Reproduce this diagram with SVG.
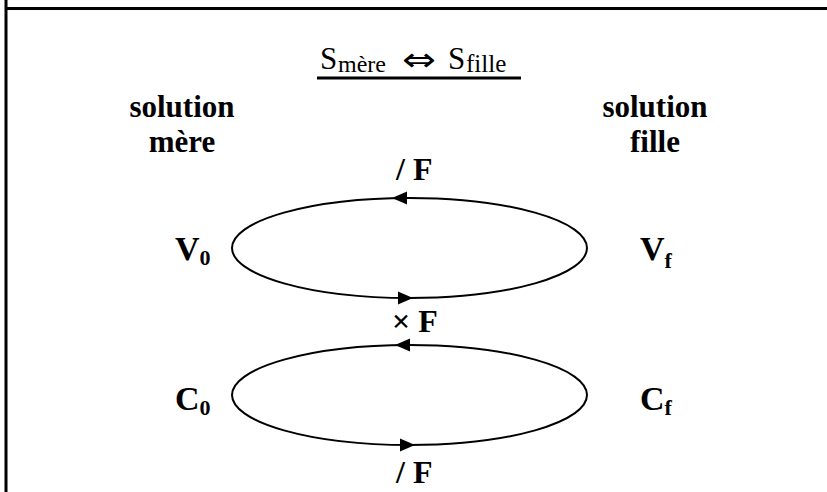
<svg xmlns="http://www.w3.org/2000/svg" width="827" height="492" viewBox="0 0 827 492">
<defs>
<style>
.lbl{font-family:"Liberation Serif","Times New Roman",serif;font-weight:bold;fill:#000}
.ttl{font-family:"Liberation Serif","DejaVu Serif",serif;fill:#000}
.sym{font-family:"DejaVu Sans",sans-serif;fill:#000}
.frame{stroke:#000;stroke-width:3;fill:none}
.ell{stroke:#000;stroke-width:2;fill:none}
</style>
<path id="ahL" d="M0,0 L15,-6.5 L15,6.5 Z" fill="#000"/>
<path id="ahR" d="M0,0 L-15,-6.5 L-15,6.5 Z" fill="#000"/>
</defs>
<rect width="827" height="492" fill="#fff"/>
<g id="frame">
<line class="frame" x1="6" y1="0" x2="6" y2="492"/>
<line class="frame" x1="6" y1="8.5" x2="827" y2="8.5"/>
</g>
<g id="title">
<text class="ttl" x="320" y="69" font-size="31">S</text>
<text class="ttl" x="338" y="72" font-size="24">mère</text>
<text class="sym" x="402" y="71" font-size="33" textLength="34" lengthAdjust="spacingAndGlyphs">⇔</text>
<text class="ttl" x="448" y="69" font-size="31">S</text>
<text class="ttl" x="466" y="72" font-size="25">fille</text>
<line x1="317" y1="78" x2="521" y2="78" stroke="#000" stroke-width="3"/>
</g>
<g id="sol-mere">
<text class="lbl" x="182" y="117" font-size="31" text-anchor="middle">solution</text>
<text class="lbl" x="182" y="152" font-size="31" text-anchor="middle">mère</text>
</g>
<g id="sol-fille">
<text class="lbl" x="655" y="117" font-size="31" text-anchor="middle">solution</text>
<text class="lbl" x="655" y="152" font-size="31" text-anchor="middle">fille</text>
</g>
<g id="V0"><text class="lbl" x="175" y="260" font-size="34">V<tspan font-size="22" dy="5">0</tspan></text></g>
<g id="Vf"><text class="lbl" x="640" y="260" font-size="34">V<tspan font-size="22" dy="8">f</tspan></text></g>
<g id="C0"><text class="lbl" x="175" y="410" font-size="34">C<tspan font-size="22" dy="5">0</tspan></text></g>
<g id="Cf"><text class="lbl" x="640" y="410" font-size="34">C<tspan font-size="22" dy="5">f</tspan></text></g>
<g id="connectors">
<ellipse class="ell" cx="409.5" cy="248" rx="177.5" ry="50"/>
<ellipse class="ell" cx="409.5" cy="395" rx="177.5" ry="50"/>
<use href="#ahL" x="392" y="198"/>
<use href="#ahR" x="413" y="298"/>
<use href="#ahL" x="395" y="345"/>
<use href="#ahR" x="415" y="445"/>
<text class="lbl" x="396" y="180" font-size="32">/ F</text>
<text class="lbl" x="392" y="332" font-size="32">× F</text>
<text class="lbl" x="396" y="483" font-size="32">/ F</text>
</g>
</svg>
